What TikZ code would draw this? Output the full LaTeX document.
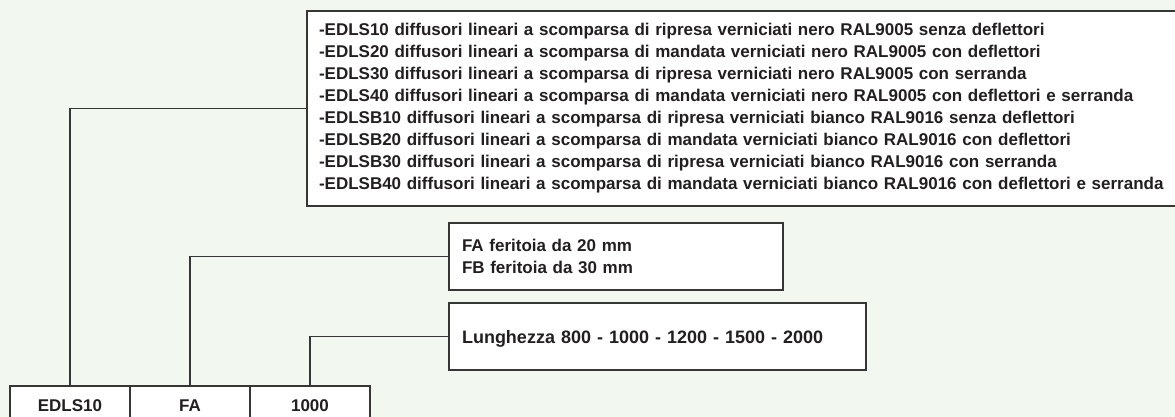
\documentclass[tikz,border=0pt]{standalone}
\usepackage{fontspec}
\setmainfont{Liberation Sans}
\usepackage{xcolor}
\usepackage{tikz}
\usetikzlibrary{positioning}
\definecolor{softbg}{HTML}{F2F8EF}
\definecolor{linec}{HTML}{363636}
\definecolor{inkc}{HTML}{231F20}
\tikzset{
  link/.style={linec,line width=1.3pt},
  infobox/.style={draw=linec,line width=1.3pt,fill=white,text=inkc,align=left,anchor=north west,
    inner xsep=13pt,inner ysep=0pt,outer sep=0pt,font=\fontsize{17}{22}\selectfont\bfseries},
  codebox/.style={draw=linec,line width=1.3pt,fill=white,text=inkc,minimum width=120pt,minimum height=40pt,
    inner sep=0pt,outer sep=0pt,font=\fontsize{17}{22}\selectfont\bfseries}
}

\begin{document}
\begin{tikzpicture}[x=1pt,y=-1pt]
\useasboundingbox (0,0) rectangle (1175,417);
\fill[softbg] (0,0) rectangle (1175,417);
% code row
\node[codebox,anchor=north west] (code1) at (10,386) {EDLS10};
\node[codebox,right=0pt of code1] (code2) {FA};
\node[codebox,right=0pt of code2] (code3) {1000};
% explanation boxes
\node[infobox,inner xsep=12pt,text width=880pt,minimum height=195pt] (variants) at (307,11) {%
-EDLS10 diffusori lineari a scomparsa di ripresa verniciati nero RAL9005 senza deflettori\\
-EDLS20 diffusori lineari a scomparsa di mandata verniciati nero RAL9005 con deflettori\\
-EDLS30 diffusori lineari a scomparsa di ripresa verniciati nero RAL9005 con serranda\\
-EDLS40 diffusori lineari a scomparsa di mandata verniciati nero RAL9005 con deflettori e serranda\\
-EDLSB10 diffusori lineari a scomparsa di ripresa verniciati bianco RAL9016 senza deflettori\\
-EDLSB20 diffusori lineari a scomparsa di mandata verniciati bianco RAL9016 con deflettori\\
-EDLSB30 diffusori lineari a scomparsa di ripresa verniciati bianco RAL9016 con serranda\\
-EDLSB40 diffusori lineari a scomparsa di mandata verniciati bianco RAL9016 con deflettori e serranda};
\node[infobox,text width=308pt,minimum height=67pt] (slot) at (449,223) {FA feritoia da 20 mm\\FB feritoia da 30 mm};
\node[infobox,text width=391pt,minimum height=67pt,text depth=0pt,font=\fontsize{18}{22}\selectfont\bfseries] (length) at (449,303) {Lunghezza 800 - 1000 - 1200 - 1500 - 2000};
% connectors
\draw[link] (code1.north) |- (variants.west);
\draw[link] (code2.north) |- (slot.west);
\draw[link] (code3.north) |- (length.west);
\end{tikzpicture}
\end{document}
